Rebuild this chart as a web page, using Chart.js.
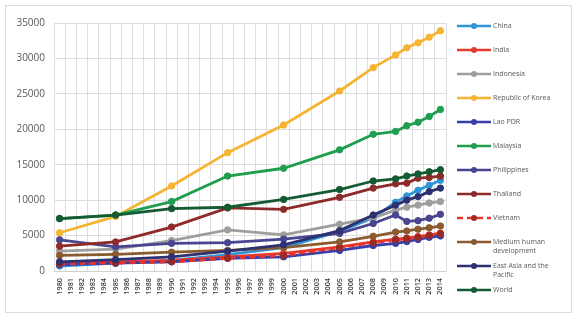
<!DOCTYPE html>
<html>
<head>
<meta charset="utf-8">
<script src="https://cdn.jsdelivr.net/npm/chart.js@4.4.1/dist/chart.umd.min.js"></script>
<style>
    html, body { margin: 0; padding: 0; background: #fff; }
    #wrap { position: relative; width: 576px; height: 321px; overflow: hidden; }
    #frame { position: absolute; left: 5px; top: 5px; width: 565px; height: 306px; border: 1px solid #dcdcdc; pointer-events: none; }
    #chart { position: absolute; left: 0; top: 0; }
    #legend { position: absolute; left: 457px; top: 20px; font-family: "Open Sans", sans-serif; font-size: 7px; color: #595959; }
    .item { display: flex; align-items: flex-start; height: 24px; }
    .item canvas { display: block; margin-right: 2px; }
    .item span { line-height: 8.5px; padding-top: 2px; }
</style>
</head>
<body>
<div id="wrap">
    <canvas id="chart" width="576" height="321"></canvas>
    <div id="frame"></div>
    <div id="legend"></div>
</div>
<script>
const years = ['1980','1981','1982','1983','1984','1985','1986','1987','1988','1989',
    '1990','1991','1992','1993','1994','1995','1996','1997','1998','1999',
    '2000','2001','2002','2003','2004','2005','2006','2007','2008','2009',
    '2010','2011','2012','2013','2014'];
// years that have a value in the source table
const obsYears = ['1980','1985','1990','1995','2000','2005','2008','2010','2011','2012','2013','2014'];

const china       = [700, 1100, 1500, 2300, 3300, 5600, 7500, 9700, 10600, 11400, 12100, 12800];
const india       = [1100, 1300, 1500, 2000, 2500, 3400, 4100, 4500, 4650, 4850, 5100, 5350];
const indonesia   = [2800, 3100, 4300, 5800, 5100, 6600, 7500, 8600, 9000, 9300, 9600, 9800];
const korea       = [5400, 7700, 12000, 16700, 20600, 25400, 28700, 30500, 31500, 32200, 33000, 33900];
const laoPdr      = [900, 1100, 1300, 1800, 2000, 2900, 3600, 3900, 4150, 4450, 4750, 4950];
const malaysia    = [7400, 7900, 9800, 13400, 14500, 17100, 19300, 19700, 20500, 21000, 21800, 22800];
const philippines = [4400, 3400, 3900, 4000, 4500, 5300, 6700, 7900, 7000, 7100, 7450, 8000];
const thailand    = [3500, 4100, 6200, 8900, 8700, 10400, 11700, 12300, 12400, 13100, 13200, 13400];
const vietnam     = [1000, 1150, 1300, 1800, 2200, 3300, 4000, 4400, 4550, 4750, 5000, 5250];
const mediumHd    = [2200, 2350, 2650, 2900, 3300, 4100, 4900, 5500, 5650, 5900, 6100, 6350];
const eastAsia    = [1300, 1600, 2000, 2800, 3700, 5700, 7900, 9300, 10000, 10500, 11200, 11700];
const world       = [7400, 7900, 8800, 9000, 10100, 11500, 12700, 13000, 13400, 13700, 14000, 14300];

const yTicks = [0, 5000, 10000, 15000, 20000, 25000, 30000, 35000];

const series = [
    { name: 'China', values: china, color: '#2e95d8' },
    { name: 'India', values: india, color: '#e53a2e' },
    { name: 'Indonesia', values: indonesia, color: '#9e9e9e' },
    { name: 'Republic of Korea', values: korea, color: '#f5b433' },
    { name: 'Lao PDR', values: laoPdr, color: '#3a3fa8' },
    { name: 'Malaysia', values: malaysia, color: '#1f9e4f' },
    { name: 'Philippines', values: philippines, color: '#4a4590' },
    { name: 'Thailand', values: thailand, color: '#8e2a2a' },
    { name: 'Vietnam', values: vietnam, color: '#e8322b', dot: '#9c2a24', dash: [6, 4] },
    { name: 'Medium human development', values: mediumHd, color: '#8a5b2f' },
    { name: 'East Asia and the Pacific', values: eastAsia, color: '#2d3170' },
    { name: 'World', values: world, color: '#145a32' }
];

const toFullYears = (values) => years.map((y) => {
    const i = obsYears.indexOf(y);
    return i < 0 ? null : values[i];
});

const datasets = series.map((s, i) => ({
    label: s.name,
    data: toFullYears(s.values),
    borderColor: s.color,
    backgroundColor: s.dot || s.color,
    pointBackgroundColor: s.dot || s.color,
    pointBorderColor: s.dot || s.color,
    borderWidth: 2.8,
    borderDash: s.dash || [],
    pointRadius: 3.2,
    pointBorderWidth: 1,
    spanGaps: true,
    tension: 0,
    order: series.length - i
}));

const chart = new Chart(document.getElementById('chart'), {
    type: 'line',
    data: { labels: years, datasets: datasets },
    options: {
        responsive: false,
        animation: false,
        layout: { padding: { top: 23, right: 130, bottom: 0, left: 0 } },
        plugins: {
            legend: { display: false },
            tooltip: { enabled: false }
        },
        scales: {
            x: {
                offset: true,
                grid: { offset: true, color: '#dedede', drawTicks: false },
                border: { color: '#d0d0d0' },
                ticks: {
                    autoSkip: false,
                    minRotation: 90,
                    maxRotation: 90,
                    padding: 7,
                    color: '#404040',
                    font: { family: 'Open Sans', size: 7.3, weight: '600' }
                },
                afterFit: (scale) => { scale.height = 50; }
            },
            y: {
                min: 0,
                max: 35000,
                afterBuildTicks: (scale) => { scale.ticks = yTicks.map((v) => ({ value: v })); },
                grid: { color: '#dedede', drawTicks: false },
                border: { display: false },
                ticks: {
                    padding: 9,
                    color: '#595959',
                    font: { family: 'Open Sans', size: 10 },
                    callback: (value) => String(value)
                },
                afterFit: (scale) => { scale.width = 54; }
            }
        }
    }
});

// legend drawn as html, samples match the dataset styles
const legendEl = document.getElementById('legend');
chart.data.datasets.forEach((ds, i) => {
    const s = series[i];
    const row = document.createElement('div');
    row.className = 'item';
    const sample = document.createElement('canvas');
    sample.width = 34;
    sample.height = 12;
    const ctx = sample.getContext('2d');
    ctx.strokeStyle = ds.borderColor;
    ctx.lineWidth = 2.5;
    ctx.setLineDash(s.dash || []);
    ctx.beginPath();
    ctx.moveTo(0, 6);
    ctx.lineTo(34, 6);
    ctx.stroke();
    ctx.fillStyle = ds.pointBackgroundColor;
    ctx.beginPath();
    ctx.arc(17, 6, 3, 0, Math.PI * 2);
    ctx.fill();
    const label = document.createElement('span');
    label.textContent = ds.label;
    if (ds.label === 'Medium human development') label.innerHTML = 'Medium human<br>development';
    if (ds.label === 'East Asia and the Pacific') label.innerHTML = 'East Asia and the<br>Pacific';
    row.appendChild(sample);
    row.appendChild(label);
    legendEl.appendChild(row);
});
</script>
</body>
</html>
